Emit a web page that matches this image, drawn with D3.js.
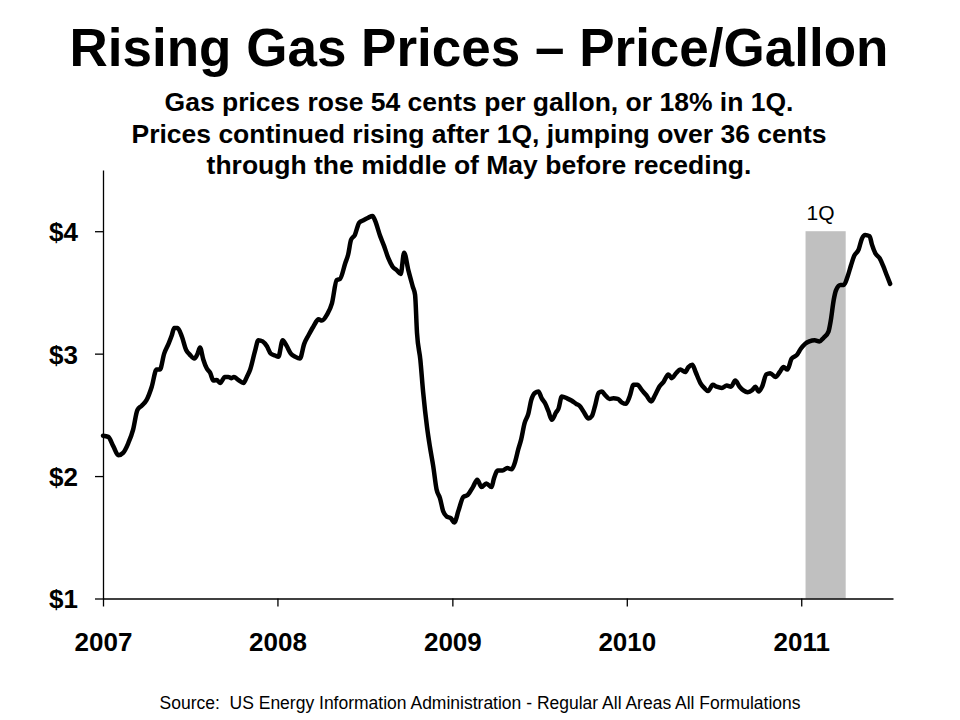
<!DOCTYPE html>
<html>
<head>
<meta charset="utf-8">
<script src="https://cdn.jsdelivr.net/npm/d3@7"></script>
<style>
  html, body { margin: 0; padding: 0; background: #fff; }
  svg { display: block; }
  text { font-family: "Liberation Sans", Arial, sans-serif; fill: #000; }
</style>
</head>
<body>
<svg id="chart" width="960" height="720"></svg>
<script>
// ---- data ----
const titleText = "Rising Gas Prices \u2013 Price/Gallon";
const subtitleLines = [
  "Gas prices rose 54 cents per gallon, or 18% in 1Q.",
  "Prices continued rising after 1Q, jumping over 36 cents",
  "through the middle of May before receding."
];
const sourceText = "Source:  US Energy Information Administration - Regular All Areas All Formulations";
const yTicks = [1, 2, 3, 4];
const xTickYears = [2007, 2008, 2009, 2010, 2011];
const bandLabel = "1Q";
const bandDates = ["2011-01-10", "2011-04-04"];
const bandTop = 4;

const dates = [
"2007-01-01","2007-01-12","2007-01-23","2007-02-02","2007-02-12","2007-02-23","2007-03-05","2007-03-14","2007-03-23","2007-04-02",
"2007-04-13","2007-04-23","2007-04-30","2007-05-09","2007-05-18","2007-05-25","2007-05-30","2007-06-06","2007-06-15","2007-06-24",
"2007-07-02","2007-07-11","2007-07-18","2007-07-23","2007-07-30","2007-08-06","2007-08-13","2007-08-20","2007-08-27","2007-09-03",
"2007-09-13","2007-09-20","2007-09-27","2007-10-02","2007-10-11","2007-10-22","2007-10-29","2007-11-05","2007-11-15","2007-11-22",
"2007-12-01","2007-12-10","2007-12-18","2007-12-27","2008-01-03","2008-01-12","2008-01-20","2008-01-29","2008-02-07","2008-02-17",
"2008-02-26","2008-03-06","2008-03-16","2008-03-27","2008-04-03","2008-04-14","2008-04-24","2008-05-04","2008-05-11","2008-05-22",
"2008-05-28","2008-06-03","2008-06-11","2008-06-20","2008-06-29","2008-07-09","2008-07-18","2008-07-23","2008-08-03","2008-08-11",
"2008-08-20","2008-08-29","2008-09-07","2008-09-15","2008-09-22","2008-10-01","2008-10-10","2008-10-15","2008-10-19","2008-10-26",
"2008-11-01","2008-11-09","2008-11-15","2008-11-22","2008-11-29","2008-12-06","2008-12-13","2008-12-20","2008-12-29","2009-01-05",
"2009-01-14","2009-01-24","2009-02-02","2009-02-13","2009-02-22","2009-03-03","2009-03-13","2009-03-24","2009-03-29","2009-04-06",
"2009-04-16","2009-04-26","2009-05-05","2009-05-11","2009-05-19","2009-05-25","2009-06-01","2009-06-09","2009-06-15","2009-06-23",
"2009-06-30","2009-07-07","2009-07-14","2009-07-21","2009-07-28","2009-08-06","2009-08-11","2009-08-18","2009-08-29","2009-09-08",
"2009-09-17","2009-09-25","2009-10-02","2009-10-13","2009-10-20","2009-10-27","2009-11-03","2009-11-10","2009-11-17","2009-11-26",
"2009-12-04","2009-12-13","2009-12-22","2009-12-30","2010-01-07","2010-01-15","2010-01-23","2010-02-02","2010-02-11","2010-02-21",
"2010-03-01","2010-03-10","2010-03-19","2010-03-29","2010-04-05","2010-04-14","2010-04-23","2010-05-03","2010-05-10","2010-05-18",
"2010-05-25","2010-06-04","2010-06-12","2010-06-20","2010-06-30","2010-07-08","2010-07-19","2010-07-29","2010-08-07","2010-08-16",
"2010-08-25","2010-09-02","2010-09-11","2010-09-20","2010-09-27","2010-10-04","2010-10-11","2010-10-20","2010-10-28","2010-11-08",
"2010-11-17","2010-11-25","2010-12-03","2010-12-12","2010-12-23","2010-12-31","2011-01-09","2011-01-18","2011-01-29","2011-02-08",
"2011-02-17","2011-02-27","2011-03-04","2011-03-10","2011-03-15","2011-03-24","2011-03-31","2011-04-08","2011-04-15","2011-04-22",
"2011-05-01","2011-05-08","2011-05-15","2011-05-24","2011-05-29","2011-06-05","2011-06-14","2011-06-21","2011-06-29","2011-07-06"
];
const prices = [
2.33,2.32,2.24,2.17,2.19,2.27,2.38,2.54,2.575,2.62,
2.73,2.87,2.87,3.00,3.08,3.15,3.21,3.21,3.14,3.03,
2.99,2.96,3.00,3.05,2.95,2.88,2.845,2.78,2.785,2.76,
2.81,2.81,2.80,2.81,2.785,2.76,2.81,2.87,3.02,3.11,
3.10,3.06,3.00,2.985,2.975,3.11,3.065,3.00,2.975,2.96,
3.08,3.15,3.22,3.28,3.27,3.32,3.41,3.60,3.61,3.74,
3.81,3.93,3.97,4.07,4.09,4.11,4.125,4.09,3.96,3.88,
3.78,3.71,3.68,3.65,3.825,3.68,3.55,3.48,3.17,2.95,
2.68,2.40,2.24,2.08,1.89,1.82,1.71,1.67,1.655,1.62,
1.72,1.83,1.845,1.91,1.97,1.91,1.94,1.91,1.98,2.045,
2.045,2.065,2.055,2.10,2.22,2.30,2.43,2.51,2.62,2.68,
2.69,2.635,2.595,2.53,2.46,2.52,2.55,2.65,2.635,2.615,
2.59,2.57,2.53,2.47,2.49,2.58,2.68,2.69,2.66,2.63,
2.635,2.63,2.60,2.59,2.65,2.745,2.745,2.70,2.66,2.61,
2.66,2.73,2.77,2.83,2.80,2.84,2.87,2.85,2.89,2.91,
2.85,2.76,2.72,2.695,2.745,2.73,2.72,2.74,2.73,2.78,
2.73,2.70,2.685,2.70,2.73,2.69,2.73,2.83,2.84,2.81,
2.85,2.89,2.87,2.96,2.99,3.04,3.08,3.10,3.11,3.10,
3.13,3.18,3.275,3.44,3.52,3.56,3.56,3.63,3.72,3.80,
3.85,3.94,3.97,3.96,3.89,3.82,3.78,3.72,3.64,3.57
];
const xDomain = ["2007-01-01", "2011-07-12"];
const yDomain = [1, 4.5];

// ---- drawing ----
const parse = d3.utcParse("%Y-%m-%d");
const series = dates.map((d, i) => ({ date: parse(d), value: prices[i] }));

const svg = d3.select("#chart");
const x = d3.scaleUtc().domain(xDomain.map(parse)).range([103, 893]);
const y = d3.scaleLinear().domain(yDomain).range([598.5, 170]);

// Title & subtitle
svg.append("text")
  .attr("x", 479).attr("y", 66)
  .attr("text-anchor", "middle")
  .style("font-size", "53px").style("font-weight", "bold")
  .text(titleText);

svg.selectAll("text.sub").data(subtitleLines).enter().append("text")
  .attr("class", "sub")
  .attr("x", 479)
  .attr("y", (d, i) => 111 + i * 31.5)
  .attr("text-anchor", "middle")
  .style("font-size", "26.5px").style("font-weight", "bold")
  .text(d => d);

// 1Q band
svg.append("rect")
  .attr("x", x(parse(bandDates[0])))
  .attr("width", x(parse(bandDates[1])) - x(parse(bandDates[0])))
  .attr("y", y(bandTop))
  .attr("height", y(yDomain[0]) - y(bandTop))
  .attr("fill", "#c0c0c0");

svg.append("text")
  .attr("x", (x(parse(bandDates[0])) + x(parse(bandDates[1]))) / 2 - 5)
  .attr("y", y(bandTop) - 11)
  .attr("text-anchor", "middle")
  .style("font-size", "21px")
  .text(bandLabel);

// Axes
const xAxis = d3.axisBottom(x)
  .tickValues(xTickYears.map(yr => new Date(Date.UTC(yr, 0, 1))))
  .tickFormat(d3.utcFormat("%Y"))
  .tickSize(8).tickSizeOuter(0);

const gx = svg.append("g").attr("transform", `translate(0,${y(yDomain[0])})`).call(xAxis);
gx.selectAll("text")
  .attr("y", 52).attr("dy", 0)
  .style("font-size", "26px").style("font-weight", "bold")
  .style("font-family", '"Liberation Sans", Arial, sans-serif');

const yAxis = d3.axisLeft(y)
  .tickValues(yTicks)
  .tickFormat(d => "$" + d)
  .tickSize(8).tickSizeOuter(0);

const gy = svg.append("g").attr("transform", `translate(${x.range()[0]},0)`).call(yAxis);
gy.selectAll("text")
  .attr("x", -25).attr("dy", "0.36em")
  .style("font-size", "26px").style("font-weight", "bold")
  .style("font-family", '"Liberation Sans", Arial, sans-serif');

svg.selectAll(".domain, .tick line").attr("stroke", "#000").attr("stroke-width", 1.3);

// Price line
const line = d3.line()
  .x(d => x(d.date))
  .y(d => y(d.value))
  .curve(d3.curveMonotoneX);

svg.append("path")
  .datum(series)
  .attr("fill", "none")
  .attr("stroke", "#000")
  .attr("stroke-width", 4.5)
  .attr("stroke-linejoin", "round")
  .attr("stroke-linecap", "round")
  .attr("d", line);

// Source
svg.append("text")
  .attr("x", 480).attr("y", 709)
  .attr("text-anchor", "middle")
  .style("font-size", "17.5px")
  .style("white-space", "pre")
  .text(sourceText);
</script>
</body>
</html>
